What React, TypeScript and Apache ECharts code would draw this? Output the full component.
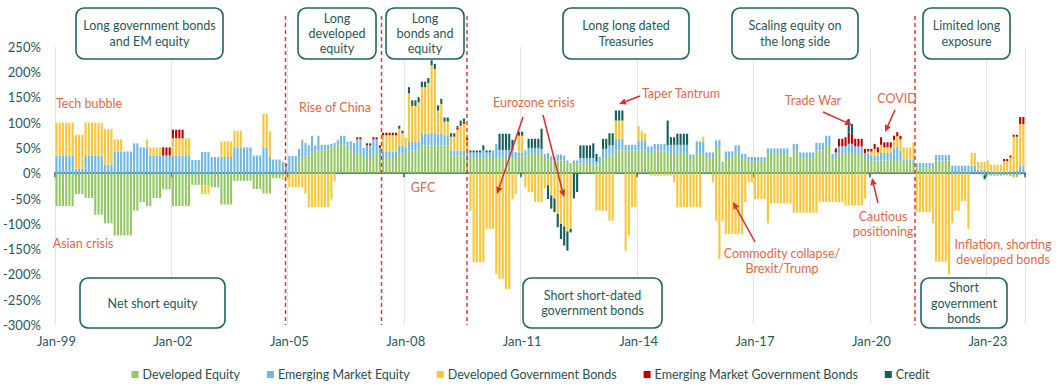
import React, { useEffect, useRef } from "react";
import * as echarts from "echarts";

const FONT = "Lato, 'Open Sans', sans-serif";

// Monthly categories Jan-99 .. Dec-23
const MONTHS = ["Jan", "Feb", "Mar", "Apr", "May", "Jun", "Jul", "Aug", "Sep", "Oct", "Nov", "Dec"];
const YEARS = [1999, 2000, 2001, 2002, 2003, 2004, 2005, 2006, 2007, 2008, 2009, 2010, 2011, 2012, 2013, 2014, 2015, 2016, 2017, 2018, 2019, 2020, 2021, 2022, 2023];
const categories: string[] = [];
YEARS.forEach((y) => MONTHS.forEach((m) => categories.push(`${m}-${String(y % 100).padStart(2, "0")}`)));

// Y-axis ticks (%)
const yMin = -300;
const yMax = 250;
const yStep = 50;

// One row per year (Jan..Dec), values in % of capital
const developedEquity = [
  -65, -65, -65, -65, -65, -65, -41, -41, -41, -49, -49, -49, // 1999
  -82, -82, -82, -99, -99, -99, -123, -123, -123, -123, -123, -123, // 2000
  -74, -74, -57, -57, -65, -65, -49, -49, -49, -32, -32, -32, // 2001
  -65, -65, -65, -65, -65, -65, -23, -23, -23, -24, -24, -24, // 2002
  -28, -28, -28, -62, -62, -62, -62, -15, -15, -15, -15, -15, // 2003
  -15, -31, -31, -31, -40, -40, -40, -10, -10, -10, -5, -3, // 2004
  0, 0, 0, 25, 30, 33, 35, 41, 45, 45, 45, 48, // 2005
  48, 50, 55, 55, 57, 57, 57, 45, 40, 40, 40, 30, // 2006
  32, 32, 40, 40, 30, 30, 30, 30, 30, 30, 40, 40, // 2007
  35, 45, 45, 45, 45, 55, 55, 55, 55, 55, 55, 55, // 2008
  55, 55, 35, 35, 35, 35, 35, 30, 32, 32, 32, 32, // 2009
  32, 32, 32, 32, 32, 32, 32, 32, 32, 32, 32, 33, // 2010
  33, 35, 38, 38, 38, 38, 38, 30, 30, 25, 25, 25, // 2011
  25, 25, 20, 18, 20, 20, 20, 20, 20, 20, 20, 15, // 2012
  20, 30, 30, 35, 35, 45, 45, 45, 45, 45, 45, 45, // 2013
  45, 45, 45, 40, 40, 45, 45, 45, 45, 40, 40, 40, // 2014
  40, 40, 40, 40, 30, 30, 40, 40, 40, 30, 30, 30, // 2015
  50, 50, 15, 32, 32, 32, 40, 40, 28, 28, 22, 22, // 2016
  22, 22, 22, 22, 38, 38, 38, 38, 38, 38, 38, 32, // 2017
  45, 45, 32, 32, 32, 32, 32, 45, 45, 45, 55, 55, // 2018
  30, 32, 38, 38, 38, 38, 38, 38, 38, 38, 30, 28, // 2019
  25, 25, 25, 25, 25, 25, 25, 28, 28, 25, 22, 22, // 2020
  22, 22, 12, 12, 12, 12, 12, 12, 25, 25, 25, 25, // 2021
  25, 0, 0, 0, 0, 0, 0, 0, 0, 0, -3, -4, // 2022
  -4, -5, -5, -5, -5, -4, -4, -6, -8, -8, -3, 0, // 2023
];

const emergingMarketEquity = [
  34, 34, 34, 34, 34, 34, 9, 9, 9, 34, 34, 34, // 1999
  34, 34, 34, 17, 17, 17, 43, 43, 43, 43, 43, 43, // 2000
  59, 59, 51, 51, 51, 35, 35, 35, 35, 35, 35, 35, // 2001
  35, 35, 35, 35, 35, 35, 26, 26, 26, 42, 42, 42, // 2002
  32, 32, 32, 32, 32, 32, 32, 51, 51, 51, 51, 51, // 2003
  51, 35, 35, 35, 51, 51, 32, 27, 27, 27, 22, 15, // 2004
  34, 34, 34, 23, 36, 27, 20, 33, 10, 29, 11, 8, // 2005
  8, 8, 5, 10, 17, 17, 5, 18, 20, 27, 27, 20, // 2006
  23, 23, 27, 27, 20, 12, 12, 12, 12, 12, 15, 15, // 2007
  15, 18, 18, 18, 18, 23, 23, 23, 25, 25, 23, 23, // 2008
  20, 20, 10, 10, 10, 10, 10, 10, 9, 9, 9, 9, // 2009
  13, 9, 9, 13, 26, 14, 14, 14, 14, 14, 10, 8, // 2010
  8, 10, 12, 12, 12, 12, 10, 8, 10, 8, 8, 12, // 2011
  12, 10, 5, 2, 5, 5, 10, 10, 10, 10, 10, 8, // 2012
  12, 18, 18, 20, 20, 23, 23, 23, 11, 11, 11, 11, // 2013
  20, 20, 20, 13, 13, 13, 13, 13, 13, 15, 16, 16, // 2014
  16, 16, 16, 16, 7, 7, 23, 23, 23, 11, 11, 11, // 2015
  15, 15, 7, 11, 11, 11, 15, 15, 10, 10, 10, 10, // 2016
  10, 10, 10, 10, 11, 11, 11, 11, 11, 11, 11, 0, // 2017
  13, 13, 9, 9, 9, 9, 9, 15, 15, 15, 19, 19, // 2018
  8, 9, 15, 15, 15, 20, 20, 15, 15, 15, 10, 10, // 2019
  10, 10, 10, 15, 15, 15, 15, 20, 25, 20, 5, 5, // 2020
  5, 5, 8, 8, 8, 8, 8, 8, 11, 11, 11, 11, // 2021
  11, 15, 15, 15, 15, 15, 15, 15, 15, 7, 7, 7, // 2022
  5, 3, 3, 3, 3, 3, 3, 4, 5, 5, 15, 15, // 2023
];

const developedGovBonds = [
  66, 66, 66, 66, 66, 66, 67, 67, 67, 66, 66, 66, // 1999
  66, 66, 66, 70, 70, 70, 24, 24, 24, 0, 0, 0, // 2000
  0, 0, 0, 0, 16, 16, 16, 16, 16, 0, 0, 0, // 2001
  34, 34, 34, 34, 34, 34, 0, 0, 0, -17, -17, -17, // 2002
  0, 0, 0, 31, 31, 31, 31, 33, 33, 33, 0, 0, // 2003
  0, 0, 0, 0, 66, 66, 51, 0, 0, 0, -8, -10, // 2004
  -28, -28, -28, -28, -28, -40, -67, -67, -67, -67, -67, -67, // 2005
  -67, -52, -16, 0, 0, 0, 0, 0, 0, 0, 0, 0, // 2006
  0, 0, 0, 0, 0, 33, 33, 33, 33, 33, 33, 24, // 2007
  20, 95, 70, 70, 77, 92, 92, 100, 133, 126, 46, 59, // 2008
  27, 27, 27, 27, 41, 49, 53, 25, -74, -176, -176, -176, // 2009
  -176, -110, -110, -110, -199, -209, -209, -229, -229, -51, -41, 33, // 2010
  33, -28, -37, -37, -57, -57, -57, -30, -24, -44, -50, -80, // 2011
  -100, -105, -115, -110, 0, 0, 0, 0, 0, 0, 0, -74, // 2012
  -74, -74, -74, -94, -94, 36, 36, 36, -153, -123, -67, -67, // 2013
  28, 19, 14, 0, -5, -5, -5, -5, -5, -5, -5, -18, // 2014
  -67, -67, -67, -67, -67, -67, -67, -67, 9, 0, 0, -18, // 2015
  -94, -170, -94, -120, -120, -120, -120, -120, -120, -57, -18, -18, // 2016
  -51, -51, -51, -51, -99, -60, -60, -60, -60, -60, -60, -60, // 2017
  -78, -78, -78, -78, -78, -78, -78, -78, -57, -57, -57, -57, // 2018
  -57, -57, -57, -57, -64, -64, -64, -64, -64, -64, -50, 5, // 2019
  8, 13, 6, 16, 11, 11, 11, 18, 20, 22, 24, 24, // 2020
  24, 34, -77, -77, -77, -77, -77, -99, -175, -175, -175, -175, // 2021
  -199, -99, -74, -74, -55, -55, -110, 25, 25, 15, 15, 15, // 2022
  20, 14, 14, 14, 14, 21, 21, 27, 67, 67, 82, 82, // 2023
];

const emergingGovBonds = [
  0, 0, 0, 0, 0, 0, 0, 0, 0, 0, 0, 0, // 1999
  0, 0, 0, 0, 0, 0, 0, 0, 0, 0, 0, 0, // 2000
  0, 0, 0, 0, 0, 0, 0, 0, 0, 16, 16, 16, // 2001
  17, 17, 17, 17, 0, 0, 0, 0, 0, 0, 0, 0, // 2002
  0, 0, 0, 0, 0, 0, 0, 0, 0, 0, 0, 0, // 2003
  0, 0, 0, 0, 0, 0, 0, 0, 0, 0, 0, 3, // 2004
  0, 0, 0, 0, 0, 0, 0, 0, 0, 0, 0, 0, // 2005
  0, 0, 0, 0, 0, 0, 0, 0, 0, 4, 4, 0, // 2006
  4, 4, 4, 4, 5, 5, 5, 5, 5, 5, 0, 0, // 2007
  0, 0, 0, 0, 0, 0, 0, 0, 0, 0, 0, 0, // 2008
  0, 0, 0, 0, 4, 4, 4, 5, 0, 0, 0, 0, // 2009
  0, 0, 0, 0, 0, 0, 0, 0, 0, 0, 0, 0, // 2010
  0, 0, 0, 0, 0, 0, 0, 0, 0, 0, 0, 0, // 2011
  0, 0, 0, 0, 0, 0, 0, 0, 0, 0, 0, 0, // 2012
  0, 0, 0, 0, 0, 0, 0, 0, 0, 0, 0, 0, // 2013
  0, 0, 0, 0, 0, 0, 0, 0, 0, 0, 0, 0, // 2014
  0, 0, 0, 0, 0, 0, 0, 0, 0, 0, 0, 0, // 2015
  0, 0, 0, 0, 0, 0, 0, 0, 0, 0, 0, 0, // 2016
  0, 0, 0, 0, 0, 0, 0, 0, 0, 0, 0, 0, // 2017
  0, 0, 0, 0, 0, 0, 0, 0, 0, 0, 0, 0, // 2018
  0, 8, 15, 15, 18, 22, 19, 15, 15, 15, 8, 5, // 2019
  5, 10, 10, 15, 10, 10, 10, 8, 8, 7, 0, 0, // 2020
  0, 0, 0, 0, 0, 0, 0, 0, 0, 0, 0, 0, // 2021
  0, 0, 0, 0, 0, 0, 0, 0, 0, 0, 0, 0, // 2022
  0, 0, 0, 0, 0, 4, 4, 4, 4, 4, 14, 14, // 2023
];

const credit = [
  0, 0, 0, 0, 0, 0, 0, 0, 0, 0, 0, 0, // 1999
  0, 0, 0, 0, 0, 0, 0, 0, 0, 0, 0, 0, // 2000
  0, 0, 0, 0, 0, 0, 0, 0, 0, 0, 0, 0, // 2001
  0, 0, 0, 0, 0, 0, 0, 0, 0, 0, 0, 0, // 2002
  0, 0, 0, 0, 0, 0, 0, 0, 0, 0, 0, 0, // 2003
  0, 0, 0, 0, 0, 0, 0, 0, 0, 0, 0, 0, // 2004
  0, 0, 0, 0, 0, 0, 0, 0, 0, 0, 0, 0, // 2005
  0, 0, 0, 0, 0, 0, 0, 0, 0, 0, 0, 0, // 2006
  0, 0, 0, 0, 0, 0, 0, 0, 0, 0, 6, 5, // 2007
  0, 12, 11, 11, 10, 11, 11, 10, 10, 10, 10, 10, // 2008
  8, 8, 7, 7, 3, 6, 6, 0, 4, 4, 4, 4, // 2009
  10, 4, 4, 0, 0, 32, 32, 32, 32, 20, 0, 8, // 2010
  8, 0, 18, 18, 18, 18, 40, 0, -27, -26, -27, -27, // 2011
  -30, -38, -38, -7, -50, -37, 25, 25, 25, 25, 29, 15, // 2012
  0, 20, 20, 24, 24, 20, 20, 20, 0, 0, 0, 0, // 2013
  0, 0, 0, 0, 0, 0, 0, 0, 0, 49, 15, 15, // 2014
  22, 22, 22, 22, 0, 0, 0, 0, 0, 0, 0, 0, // 2015
  0, 0, 0, 0, 0, 0, 0, 0, 0, 0, 0, 0, // 2016
  0, 0, 0, 0, 0, 0, 0, 0, 0, 0, 0, 0, // 2017
  0, 0, 0, 0, 0, 0, 0, 0, 0, 0, 0, 0, // 2018
  0, 0, 0, 0, 0, 27, 20, 0, 0, 0, 0, 0, // 2019
  0, 0, 0, 0, 0, 0, 0, 0, 0, 0, 0, 0, // 2020
  0, 0, 0, 0, 0, 0, 0, 0, 0, 0, 0, 0, // 2021
  0, 0, 0, 0, 0, 0, 0, 0, 0, 0, 0, -8, // 2022
  0, 0, 0, 0, 0, 0, 0, 0, 0, 0, 0, 0, // 2023
];

const seriesNames = [
  "Developed Equity",
  "Emerging Market Equity",
  "Developed Government Bonds",
  "Emerging Market Government Bonds",
  "Credit",
];
const seriesColors = ["#92C863", "#6DB8E6", "#FBC534", "#C00000", "#155E5E"];
const seriesData = [developedEquity, emergingMarketEquity, developedGovBonds, emergingGovBonds, credit];

// Regime boxes
const regimeBoxes = [
  { x: 76, y: 8, w: 147, h: 51, text: "Long government bonds\nand EM equity" },
  { x: 298, y: 8, w: 78, h: 51, text: "Long\ndeveloped\nequity" },
  { x: 386, y: 8, w: 78, h: 51, text: "Long\nbonds and\nequity" },
  { x: 563, y: 8, w: 126, h: 51, text: "Long long dated\nTreasuries" },
  { x: 732, y: 8, w: 126, h: 51, text: "Scaling equity on\nthe long side" },
  { x: 923, y: 8, w: 87, h: 51, text: "Limited long\nexposure" },
  { x: 80, y: 278, w: 145, h: 50, text: "Net short equity" },
  { x: 523, y: 278, w: 139, h: 50, text: "Short short-dated\ngovernment bonds" },
  { x: 921, y: 278, w: 86, h: 50, text: "Short\ngovernment\nbonds" },
];

const eventLabels = [
  { x: 89, y: 103, text: "Tech bubble" },
  { x: 83, y: 243, text: "Asian crisis" },
  { x: 335, y: 107, text: "Rise of China" },
  { x: 423, y: 187, text: "GFC" },
  { x: 534, y: 102, text: "Eurozone crisis" },
  { x: 681, y: 93, text: "Taper Tantrum" },
  { x: 813, y: 100, text: "Trade War" },
  { x: 897, y: 98, text: "COVID" },
  { x: 782, y: 261, text: "Commodity collapse/\nBrexit/Trump" },
  { x: 883, y: 224, text: "Cautious\npositioning" },
  { x: 1003, y: 252, text: "Inflation, shorting\ndeveloped bonds" },
];

const arrows = [
  [523, 117, 497, 194],
  [543, 115, 564, 197],
  [640, 96, 619, 104],
  [823, 112, 852, 125],
  [895, 110, 885, 132],
  [755, 242, 733, 202],
  [878, 203, 872, 178],
];

const regimeLines = [285.5, 381.5, 467, 915];

function buildGraphics() {
  const els: any[] = [];
  const teal = "#1E6464";
  regimeLines.forEach((x) => {
    els.push({
      type: "line",
      z: 20,
      shape: { x1: x, y1: 16, x2: x, y2: 325 },
      style: { stroke: "#E53935", lineWidth: 1.5, lineDash: [4, 3] },
    });
  });
  regimeBoxes.forEach((b) => {
    els.push({
      type: "rect",
      z: 30,
      shape: { x: b.x, y: b.y, width: b.w, height: b.h, r: 8 },
      style: { fill: "#ffffff", stroke: teal, lineWidth: 1.6 },
    });
    els.push({
      type: "text",
      z: 31,
      x: b.x + b.w / 2,
      y: b.y + b.h / 2,
      style: {
        text: b.text,
        fill: "#1F5A5A",
        fontSize: 12.5,
        fontFamily: FONT,
        lineHeight: 15.3,
        align: "center",
        verticalAlign: "middle",
        textAlign: "center",
        textVerticalAlign: "middle",
      },
    });
  });
  eventLabels.forEach((t) => {
    els.push({
      type: "text",
      z: 31,
      x: t.x,
      y: t.y,
      style: {
        text: t.text,
        fill: "#E8673F",
        fontSize: 12.5,
        fontFamily: FONT,
        lineHeight: 15.5,
        align: "center",
        verticalAlign: "middle",
        textAlign: "center",
        textVerticalAlign: "middle",
      },
    });
  });
  arrows.forEach(([x1, y1, x2, y2]) => {
    const dx = x2 - x1;
    const dy = y2 - y1;
    const len = Math.sqrt(dx * dx + dy * dy);
    const ux = dx / len;
    const uy = dy / len;
    const hl = 7;
    const hw = 3.2;
    const bx = x2 - ux * hl;
    const by = y2 - uy * hl;
    els.push({
      type: "line",
      z: 32,
      shape: { x1, y1, x2: bx, y2: by },
      style: { stroke: "#E02B2B", lineWidth: 1.5 },
    });
    els.push({
      type: "polygon",
      z: 32,
      shape: {
        points: [
          [x2, y2],
          [bx - uy * hw, by + ux * hw],
          [bx + uy * hw, by - ux * hw],
        ],
      },
      style: { fill: "#E02B2B" },
    });
  });
  return els;
}

export default function App() {
  const ref = useRef<HTMLDivElement>(null);
  useEffect(() => {
    if (!ref.current) return;
    const chart = echarts.init(ref.current, undefined, { renderer: "svg" });
    const axisTextColor = "#1F5A5A";
    chart.setOption({
      animation: false,
      textStyle: { fontFamily: FONT },
      grid: { left: 52, right: 36, top: 46.7, bottom: 64, containLabel: false },
      legend: {
        data: seriesNames,
        left: "center",
        top: 363,
        icon: "rect",
        itemWidth: 7,
        itemHeight: 7,
        itemGap: 27,
        textStyle: { color: "#2A4F4F", fontSize: 12.5, fontFamily: FONT, padding: [0, 0, 0, -1] },
      },
      xAxis: [
        {
          type: "category",
          data: categories,
          position: "bottom",
          axisLine: { show: false, onZero: false },
          axisTick: { show: false },
          axisLabel: { interval: 35, color: axisTextColor, fontSize: 13, margin: 9, fontFamily: FONT },
          splitLine: { show: true, interval: 35, lineStyle: { color: "#E6E6E6", width: 1 } },
        },
        {
          type: "category",
          data: categories,
          position: "bottom",
          axisLine: { show: true, onZero: true, lineStyle: { color: "#1E5E5E", width: 1.5 } },
          axisTick: { show: true, interval: 35, length: 4, lineStyle: { color: "#1E5E5E", width: 1.5 } },
          axisLabel: { show: false },
          splitLine: { show: false },
        },
      ],
      yAxis: {
        type: "value",
        min: yMin,
        max: yMax,
        interval: yStep,
        axisLine: { show: false },
        axisTick: { show: false },
        splitLine: { show: false },
        axisLabel: { formatter: "{value}%", color: axisTextColor, fontSize: 13, margin: 14, fontFamily: FONT },
      },
      series: seriesNames.map((name, i) => ({
        name,
        type: "bar",
        stack: "total",
        xAxisIndex: 0,
        barCategoryGap: "35%",
        data: seriesData[i],
        itemStyle: { color: seriesColors[i] },
      })),
      graphic: { elements: buildGraphics() },
    });
    return () => chart.dispose();
  }, []);
  return (
    <div
      ref={ref}
      style={{ position: "fixed", left: 0, top: 0, width: 1061, height: 389, background: "#ffffff" }}
    />
  );
}
